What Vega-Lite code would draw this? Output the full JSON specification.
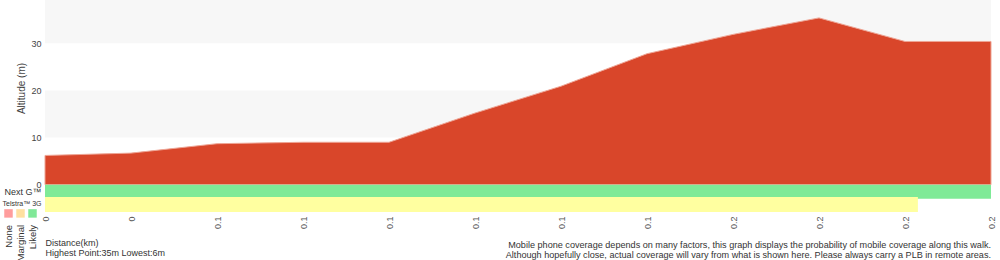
{
  "$schema": "https://vega.github.io/schema/vega-lite/v6.json",
  "width": 946,
  "height": 212,
  "autosize": "none",
  "padding": {"left": 45, "top": 0, "right": 9, "bottom": 48},
  "background": "white",
  "config": {
    "view": {"stroke": null},
    "font": "Liberation Sans",
    "text": {"font": "Liberation Sans"}
  },
  "datasets": {
    "profile": [
      {"i": 0, "km": "0", "alt": 6.2},
      {"i": 1, "km": "0", "alt": 6.7},
      {"i": 2, "km": "0.1", "alt": 8.7},
      {"i": 3, "km": "0.1", "alt": 9.0},
      {"i": 4, "km": "0.1", "alt": 9.0},
      {"i": 5, "km": "0.1", "alt": 15.2},
      {"i": 6, "km": "0.1", "alt": 20.9},
      {"i": 7, "km": "0.1", "alt": 27.8},
      {"i": 8, "km": "0.2", "alt": 31.9},
      {"i": 9, "km": "0.2", "alt": 35.4},
      {"i": 10, "km": "0.2", "alt": 30.4},
      {"i": 11, "km": "0.2", "alt": 30.4}
    ],
    "bands": [{"from": 10, "to": 20}, {"from": 30, "to": 40}],
    "coverage": [
      {"network": "Next G", "level": "Likely", "start": 0, "end": 11},
      {"network": "Telstra 3G", "level": "Marginal", "start": 0, "end": 10.15}
    ],
    "legend": [{"level": "None"}, {"level": "Marginal"}, {"level": "Likely"}]
  },
  "title": {
    "text": [
      "Mobile phone coverage depends on many factors, this graph displays the probability of mobile coverage along this walk.",
      "Although hopefully close, actual coverage will vary from what is shown here. Please always carry a PLB in remote areas."
    ],
    "orient": "bottom",
    "anchor": "end",
    "frame": "group",
    "fontSize": 9.1,
    "fontWeight": "normal",
    "color": "#333",
    "lineHeight": 10,
    "baseline": "top",
    "offset": -20
  },
  "resolve": {"scale": {"x": "independent"}},
  "layer": [
    {
      "layer": [
        {
          "data": {"name": "bands"},
          "mark": {"type": "rect", "color": "#f7f7f7", "clip": true},
          "encoding": {
            "y": {
              "field": "from",
              "type": "quantitative",
              "scale": {"domain": [-5.8, 39.2], "nice": false, "zero": false},
              "axis": {
                "title": "Altitude (m)",
                "values": [0, 10, 20, 30, -1.5, -4.1],
                "labelExpr": "datum.value == -1.5 ? 'Next G™' : datum.value == -4.1 ? 'Telstra™ 3G' : datum.label",
                "labelFontSize": {"condition": {"test": "datum.value == -4.1", "value": 7}, "value": 9},
                "labelColor": {"condition": {"test": "datum.value < 0", "value": "#333"}, "value": "#444"},
                "labelOverlap": false,
                "labelFlush": false,
                "grid": false,
                "ticks": false,
                "domain": false,
                "labelPadding": 4,
                "titleX": -19,
                "titleY": 88,
                "titleFontWeight": "normal",
                "titleFontSize": 10,
                "titleColor": "#444"
              }
            },
            "y2": {"field": "to"}
          }
        },
        {
          "data": {"name": "profile"},
          "mark": {"type": "area", "color": "#d9462a", "stroke": "#eea595", "strokeWidth": 1},
          "encoding": {
            "x": {
              "field": "i",
              "type": "quantitative",
              "scale": {"domain": [0, 11], "nice": false},
              "axis": {
                "values": [0, 1, 2, 3, 4, 5, 6, 7, 8, 9, 10, 11],
                "labelExpr": "['0','0','0.1','0.1','0.1','0.1','0.1','0.1','0.2','0.2','0.2','0.2'][datum.value]",
                "labelAngle": -90,
                "labelFontSize": 9,
                "labelColor": "#555",
                "labelFlush": false,
                "labelOverlap": false,
                "grid": false,
                "ticks": false,
                "domain": false,
                "labelPadding": 4,
                "title": ["Distance(km)", "Highest Point:35m Lowest:6m"],
                "titleAnchor": "start",
                "titleAlign": "left",
                "titleBaseline": "top",
                "titleX": 0,
                "titleY": 26,
                "titleFontSize": 9,
                "titleFontWeight": "normal",
                "titleColor": "#333",
                "titleLineHeight": 10
              }
            },
            "y": {"field": "alt", "type": "quantitative"},
            "y2": {"datum": 0}
          }
        },
        {
          "data": {"name": "coverage"},
          "transform": [{"filter": "datum.network == 'Next G'"}],
          "mark": {"type": "rect", "color": "#7fea97"},
          "encoding": {
            "x": {"field": "start", "type": "quantitative"},
            "x2": {"field": "end"},
            "y": {"datum": 0},
            "y2": {"datum": -3.0}
          }
        },
        {
          "data": {"name": "coverage"},
          "transform": [{"filter": "datum.network == 'Telstra 3G'"}],
          "mark": {"type": "rect", "color": "#ffffa0"},
          "encoding": {
            "x": {"field": "start", "type": "quantitative"},
            "x2": {"field": "end"},
            "y": {"datum": -2.6},
            "y2": {"datum": -5.8}
          }
        }
      ]
    },
    {
      "data": {"name": "legend"},
      "layer": [
        {
          "mark": {"type": "square", "size": 72, "filled": true, "opacity": 1},
          "encoding": {
            "x": {
              "field": "level",
              "type": "nominal",
              "scale": {"type": "point", "domain": ["None", "Marginal", "Likely"], "range": [-36.5, -12.5], "padding": 0},
              "axis": null
            },
            "y": {"datum": -6.1},
            "color": {
              "field": "level",
              "type": "nominal",
              "scale": {"domain": ["None", "Marginal", "Likely"], "range": ["#ff9d9d", "#ffe0a0", "#80e898"]},
              "legend": null
            }
          }
        },
        {
          "mark": {"type": "text", "angle": 270, "align": "right", "baseline": "middle", "fontSize": 9.5, "color": "#333"},
          "encoding": {
            "x": {"field": "level", "type": "nominal"},
            "y": {"datum": -8.55},
            "text": {"field": "level"}
          }
        }
      ]
    }
  ]
}
